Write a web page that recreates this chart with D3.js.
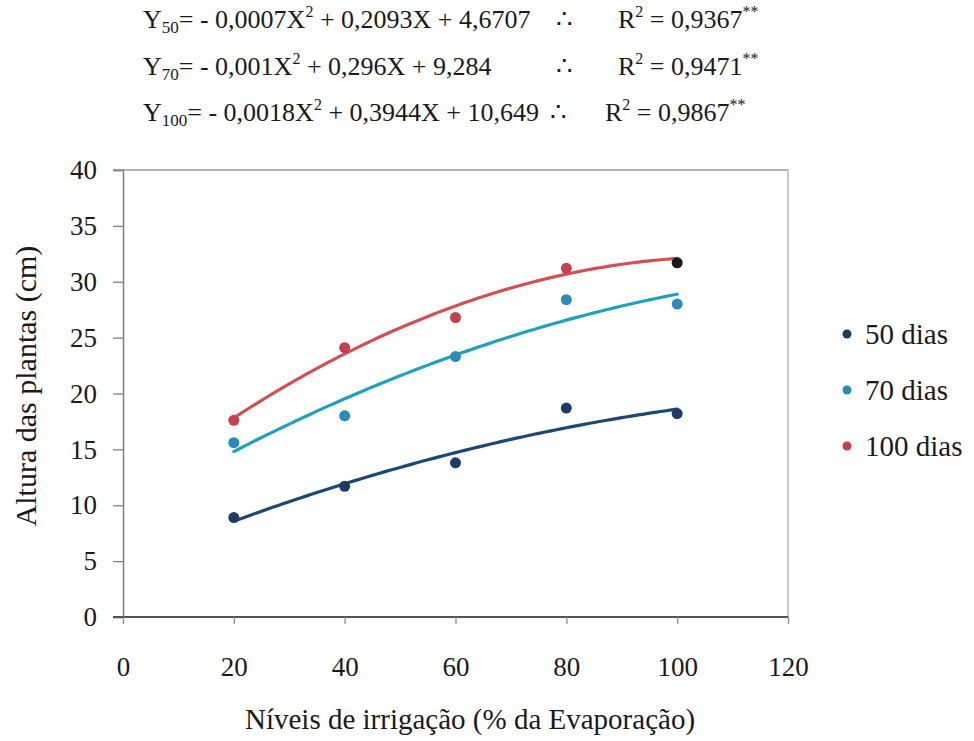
<!DOCTYPE html>
<html><head><meta charset="utf-8">
<script src="https://cdn.jsdelivr.net/npm/d3@7/dist/d3.min.js"></script>
<style>
body{margin:0;background:#fff;}
</style></head>
<body><svg id="c" width="974" height="741"></svg>
<script>
const xLevels = [20, 40, 60, 80, 100];
const series = ["50 dias", "70 dias", "100 dias"];
const values50 = [8.9, 11.7, 13.8, 18.7, 18.2];
const values70 = [15.6, 18.0, 23.3, 28.4, 28.0];
const values100 = [17.6, 24.1, 26.8, 31.2, 31.7];
// trend equations printed on the chart: a*X^2 + b*X + c
const coefA = [-0.0007, -0.001, -0.0018];
const coefB = [0.2093, 0.296, 0.3944];
const coefC = [4.6707, 9.284, 10.649];
const xTicks = [0, 20, 40, 60, 80, 100, 120];
const yTicks = [0, 5, 10, 15, 20, 25, 30, 35, 40];
const eqSub = ["50", "70", "100"];
const eqBody = ["= - 0,0007X", "= - 0,001X", "= - 0,0018X"];
const eqRest = [" + 0,2093X + 4,6707", " + 0,296X + 9,284", " + 0,3944X + 10,649"];
const r2 = ["0,9367", "0,9471", "0,9867"];

const FONT = '"Liberation Serif"';
const markerColors = ["#1d3b66", "#2a8cb4", "#c2414b"];
const lineColors = ["#1b4878", "#22a0c2", "#d24f55"];
const allValues = [values50, values70, values100];

function txt(sel) {
  return sel.attr("font-family", "Liberation Serif").style("font-family", FONT).attr("fill", "#1a1a1a");
}

const svg = d3.select("#c");
const x = d3.scaleLinear().domain([0, 120]).range([123, 788]);
const y = d3.scaleLinear().domain([0, 40]).range([617, 170]);

// frame
svg.append("line").attr("x1", 113).attr("x2", 788).attr("y1", y(40)).attr("y2", y(40)).attr("stroke", "#9a9a9a").attr("stroke-width", 1.3);
svg.append("line").attr("x1", 788).attr("x2", 788).attr("y1", y(40)).attr("y2", y(0)).attr("stroke", "#b0b0b0").attr("stroke-width", 1.3);

// axes
const yAxis = d3.axisLeft(y).tickValues(yTicks).tickSize(10).tickPadding(16);
const gy = svg.append("g").attr("transform", `translate(${x(0)},0)`).call(yAxis);
gy.attr("font-family", "Liberation Serif");
gy.select(".domain").attr("stroke", "#808080").attr("stroke-width", 1.5);
gy.selectAll(".tick line").attr("stroke", "#808080").attr("stroke-width", 1.3);
txt(gy.selectAll(".tick text")).attr("font-size", 27);

const xAxis = d3.axisBottom(x).tickValues(xTicks).tickSize(7).tickSizeOuter(0).tickPadding(33);
const gx = svg.append("g").attr("transform", `translate(0,${y(0)})`).call(xAxis);
gx.attr("font-family", "Liberation Serif");
gx.select(".domain").attr("stroke", "#555").attr("stroke-width", 2).attr("d", `M${x(0)-10},0H${x(120)}`);
gx.selectAll(".tick line").attr("stroke", "#909090").attr("stroke-width", 1.3);
txt(gx.selectAll(".tick text")).attr("font-size", 27);

// axis titles
txt(svg.append("text")).attr("x", 470).attr("y", 729).attr("text-anchor", "middle").attr("font-size", 29).text("Níveis de irrigação (% da Evaporação)");
txt(svg.append("text")).attr("transform", `translate(36,386) rotate(-90)`).attr("text-anchor", "middle").attr("font-size", 30).text("Altura das plantas (cm)");

// trend curves
const xs = d3.range(20, 100.01, 1);
series.forEach((s, i) => {
  const pts = xs.map(v => [v, coefA[i]*v*v + coefB[i]*v + coefC[i]]);
  svg.append("path").datum(pts)
    .attr("d", d3.line().x(d => x(d[0])).y(d => y(d[1])))
    .attr("fill", "none").attr("stroke", lineColors[i]).attr("stroke-width", 3.2).attr("stroke-linecap", "round");
});

// points
series.forEach((s, i) => {
  svg.append("g").selectAll("circle").data(allValues[i]).join("circle")
    .attr("cx", (d, j) => x(xLevels[j])).attr("cy", d => y(d)).attr("r", 5.5)
    .attr("fill", (d, j) => (i === 2 && j === 4) ? "#1a1a1a" : markerColors[i]);
});

// legend
const legY = [334, 390, 446];
series.forEach((s, i) => {
  svg.append("circle").attr("cx", 847).attr("cy", legY[i]).attr("r", 4.5).attr("fill", markerColors[i]);
  txt(svg.append("text")).attr("x", 865).attr("y", legY[i]).attr("dy", "0.35em").attr("font-size", 29).text(s);
});

// equations
const eqY = [28, 75, 121];
const thereX = [556, 556, 550];
const rX = [618, 618, 605];
eqSub.forEach((sub, i) => {
  const t = txt(svg.append("text")).attr("x", 143).attr("y", eqY[i]).attr("font-size", 26);
  t.append("tspan").text("Y");
  t.append("tspan").attr("font-size", 17).attr("dy", 5).text(sub);
  t.append("tspan").attr("dy", -5).text(eqBody[i]);
  t.append("tspan").attr("font-size", 16).attr("dy", -11).text("2");
  t.append("tspan").attr("dy", 11).text(eqRest[i]);
  txt(svg.append("text")).attr("x", thereX[i]).attr("y", eqY[i]).attr("font-size", 26).text("∴");
  const r = txt(svg.append("text")).attr("x", rX[i]).attr("y", eqY[i]).attr("font-size", 26);
  r.append("tspan").text("R");
  r.append("tspan").attr("font-size", 16).attr("dy", -11).text("2");
  r.append("tspan").attr("dy", 11).text(" = " + r2[i]);
  r.append("tspan").attr("font-size", 16).attr("dy", -11).text("**");
});
</script></body></html>
